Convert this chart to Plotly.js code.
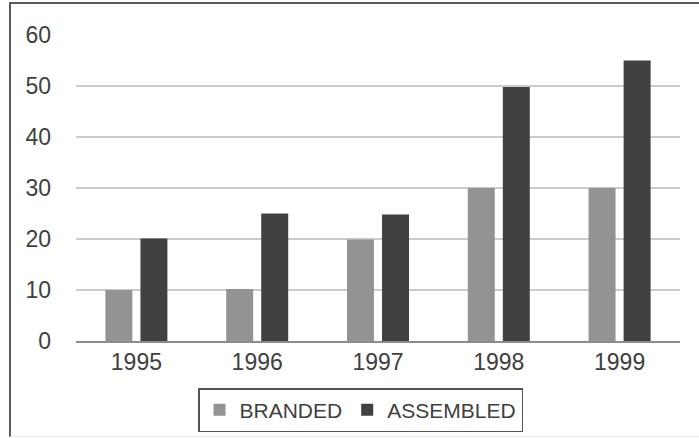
<!DOCTYPE html>
<html>
<head>
<meta charset="utf-8">
<script src="https://cdn.plot.ly/plotly-3.0.1.min.js"></script>
<style>
  html, body { margin: 0; padding: 0; background: #fff; }
  #wrap { position: relative; width: 699px; height: 438px; overflow: hidden; }
  #chart { width: 699px; height: 438px; }
  #frame { position: absolute; left: 9px; top: 2px; width: 700px; height: 432px;
           border-top: 2px solid #5a5a5a; border-left: 2px solid #5a5a5a;
           border-bottom: 1px solid #ececec; pointer-events: none; }
</style>
</head>
<body>
<div id="wrap">
  <div id="chart"></div>
  <div id="frame"></div>
</div>
<script>
const years = ['1995', '1996', '1997', '1998', '1999'];
const branded = [10, 10.2, 19.9, 30, 30];
const assembled = [20.1, 25, 24.8, 49.8, 55];
const yTicks = [0, 10, 20, 30, 40, 50, 60];

const font = { family: 'Liberation Sans, Arial, sans-serif', size: 23, color: '#404040' };

const traces = [
  { type: 'bar', name: 'BRANDED', x: years, y: branded, marker: { color: '#939393' } },
  { type: 'bar', name: 'ASSEMBLED', x: years, y: assembled, marker: { color: '#414141' } }
];

const layout = {
  width: 699, height: 438,
  margin: { l: 76, r: 19, t: 35, b: 97 },
  paper_bgcolor: '#fff', plot_bgcolor: '#fff',
  font: font,
  barmode: 'group',
  bargap: 0.42,
  bargroupgap: 0.23,
  showlegend: true,
  legend: {
    orientation: 'h',
    xref: 'container', yref: 'container',
    x: 198 / 699, xanchor: 'left',
    y: 1 - 388 / 438, yanchor: 'top',
    bgcolor: '#fff', bordercolor: '#555', borderwidth: 1.5,
    font: { family: font.family, size: 21, color: '#404040' },
    itemwidth: 30,
    tracegroupgap: 0
  },
  xaxis: {
    type: 'category',
    showgrid: false,
    showline: true, linecolor: '#8c8c8c', linewidth: 1.5,
    ticks: '', tickfont: font,
    zeroline: false
  },
  yaxis: {
    range: [0, 60],
    tickvals: yTicks,
    ticktext: yTicks.map(String),
    showgrid: true, gridcolor: '#cbcbcb', gridwidth: 1.5,
    zeroline: false, showline: false,
    ticks: '', tickfont: font,
    ticklabelstandoff: 24
  }
};

Plotly.newPlot('chart', traces, layout, { displayModeBar: false, staticPlot: true });
</script>
</body>
</html>
